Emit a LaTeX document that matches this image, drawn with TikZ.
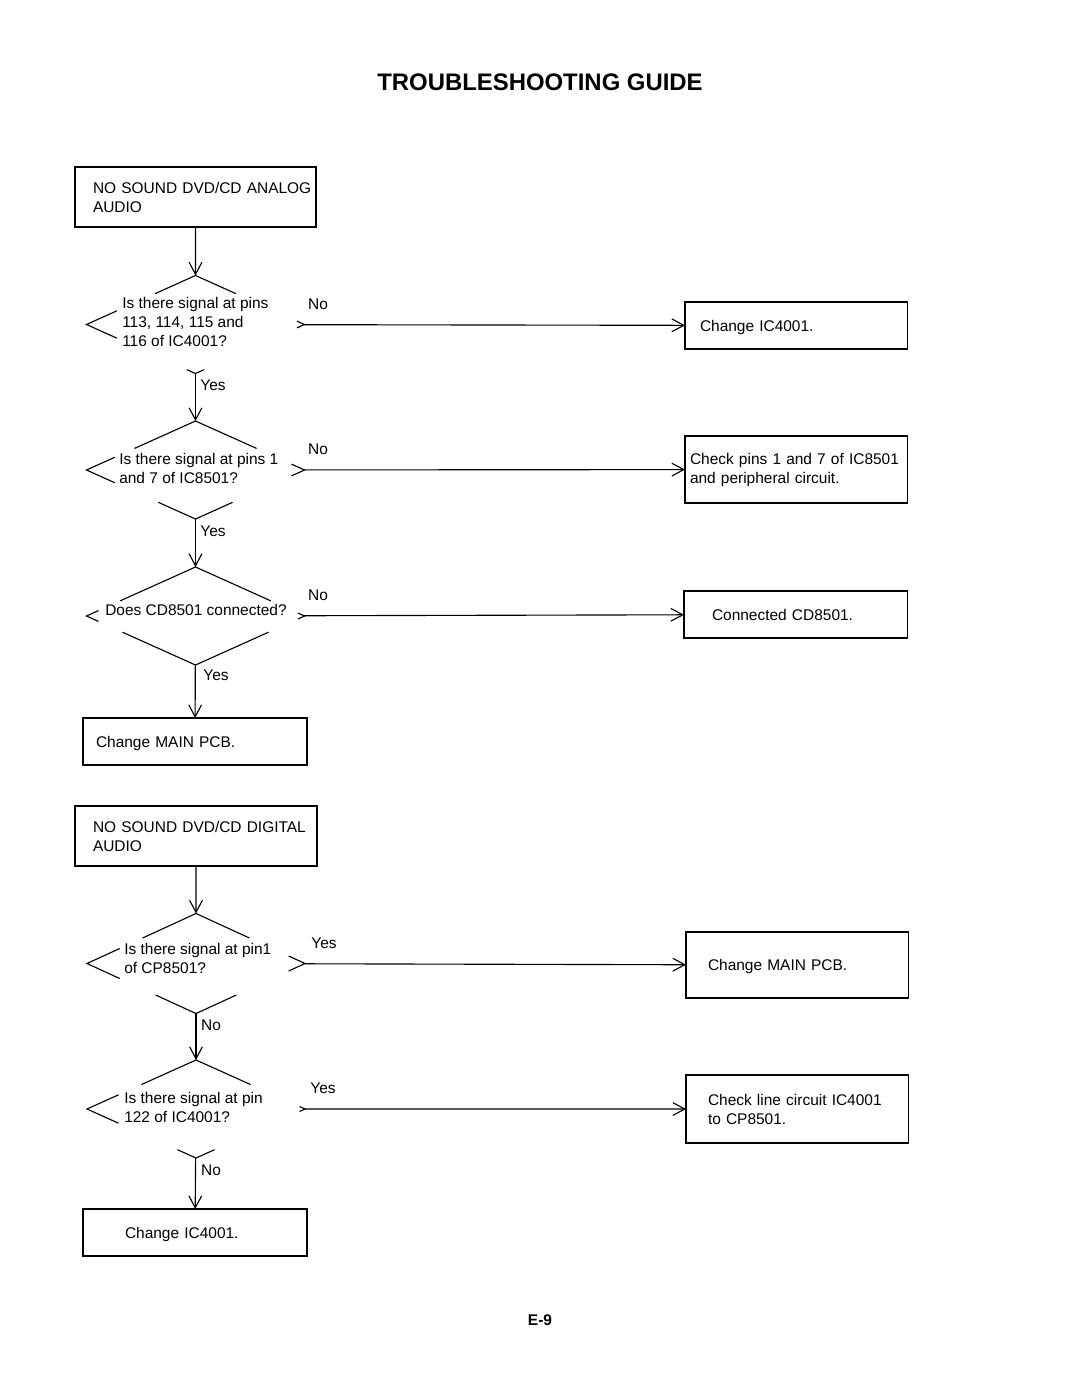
\documentclass[tikz,border=0pt]{standalone}
\usepackage{fontspec}
\setmainfont{Liberation Sans}
\usepackage{tikz}
\usetikzlibrary{arrows.meta,calc,shapes.geometric}

\begin{document}
\begin{tikzpicture}
		[x=0.025cm, y=-0.025cm,
		every node/.style={font=\fontsize{11}{13.5}\selectfont},
		action/.style={rectangle,draw,line width=0.8pt,anchor=north west,
align=left,inner ysep=0pt,outer sep=0pt},
		oneline/.style={action,text depth=0pt},
		start/.style={action,line width=2pt,minimum width=6.025cm,
minimum height=1.5cm,text width=5.125cm,inner xsep=0.45cm},
		decision/.style={diamond,inner sep=0pt,outer sep=0pt,
minimum width=5.45cm,minimum height=2.45cm},
		question/.style={align=left,inner sep=0pt,anchor=west},
		answer/.style={inner sep=0pt},
		flow/.style={line width=0.8pt,>={Straight Barb[length=3mm,width=3.2mm]}}]
		\useasboundingbox (0,0) rectangle (1080,1397);
		\node at (540,82) (title) [font=\bfseries\fontsize{17}{20}\selectfont] {TROUBLESHOOTING GUIDE};
		% analog audio
		\node at (75,167) (b1) [start] {\mbox{NO SOUND DVD/CD ANALOG}\\AUDIO};
		\node at (195.5,324.5) (d1) [decision] {}
			edge [<-,flow] (b1);
		\node at (685,302) (a1) [oneline,minimum width=5.55cm,minimum height=1.175cm,
text width=4.8cm,inner xsep=0.375cm] {Change IC4001.}
			edge [<-,flow] (d1);
		\node at (195.5,470) (d2) [decision] {}
			edge [<-,flow] (d1);
		\node at (685,436) (a2) [action,minimum width=5.55cm,minimum height=1.675cm,
text width=5.3cm,inner xsep=0.125cm] {\mbox{Check pins 1 and 7 of IC8501}\\and peripheral circuit.}
			edge [<-,flow] (d2);
		\node at (195.5,616) (d3) [decision] {}
			edge [<-,flow] (d2);
		\node at (684,591) (a3) [oneline,minimum width=5.575cm,minimum height=1.175cm,
text width=4.175cm,inner xsep=0.7cm] {Connected CD8501.}
			edge [<-,flow] (d3);
		\node at (83,718) (a4) [oneline,minimum width=5.6cm,minimum height=1.175cm,
text width=4.95cm,inner xsep=0.325cm] {Change MAIN PCB.}
			edge [<-,flow] (d3);
		% digital audio
		\node at (75,806) (b2) [start,minimum width=6.05cm,text width=5.15cm] {\mbox{NO SOUND DVD/CD DIGITAL}\\AUDIO};
		\node at (196,963.5) (d4) [decision,minimum height=2.5cm] {}
			edge [<-,flow] (b2);
		\node at (686,932) (a5) [oneline,minimum width=5.55cm,minimum height=1.65cm,
text width=4.45cm,inner xsep=0.55cm] {Change MAIN PCB.}
			edge [<-,flow] (d4);
		\node at (196,1109) (d5) [decision] {}
			edge [<-,flow] (d4);
		\node at (686,1075) (a6) [action,minimum width=5.55cm,minimum height=1.7cm,
text width=4.45cm,inner xsep=0.55cm] {\mbox{Check line circuit IC4001}\\to CP8501.}
			edge [<-,flow] (d5);
		\node at (83,1209) (a7) [oneline,minimum width=5.6cm,minimum height=1.175cm,
text width=3.5cm,inner xsep=1.05cm] {Change IC4001.}
			edge [<-,flow] (d5);
		% broken diamond outlines
		\foreach \d/\t/\l/\r/\b in {d1/0.37/0.28/0.07/0.08, d2/0.56/0.26/0.12/0.34,
d3/0.69/0.11/0.06/0.67, d4/0.49/0.3/0.15/0.37, d5/0.5/0.29/0.05/0.17}
		{
			\draw [line width=0.8pt] ($(\d.north)!\t!(\d.west)$) -- (\d.north) -- ($(\d.north)!\t!(\d.east)$);
			\draw [line width=0.8pt] ($(\d.west)!\l!(\d.north)$) -- (\d.west) -- ($(\d.west)!\l!(\d.south)$);
			\draw [line width=0.8pt] ($(\d.east)!\r!(\d.north)$) -- (\d.east) -- ($(\d.east)!\r!(\d.south)$);
			\draw [line width=0.8pt] ($(\d.south)!\b!(\d.west)$) -- (\d.south) -- ($(\d.south)!\b!(\d.east)$);
		}
		\node at (122,322) (q1) [question] {Is there signal at pins\\113, 114, 115 and\\116 of IC4001?};
		\node at (119,468) (q2) [question] {Is there signal at pins 1\\and 7 of IC8501?};
		\node at (196,610) (q3) [question,anchor=center] {Does CD8501 connected?};
		\node at (124,958.5) (q4) [question] {Is there signal at pin1\\of CP8501?};
		\node at (124,1107.5) (q5) [question] {Is there signal at pin\\122 of IC4001?};
		\node at (318,304) (no1) [answer] {No};
		\node at (213,385) (yes1) [answer] {Yes};
		\node at (318,449) (no2) [answer] {No};
		\node at (213,531) (yes2) [answer] {Yes};
		\node at (318,595) (no3) [answer] {No};
		\node at (216,675) (yes3) [answer] {Yes};
		\node at (324,943) (yes4) [answer] {Yes};
		\node at (211,1025) (no4) [answer] {No};
		\node at (323,1088) (yes5) [answer] {Yes};
		\node at (211,1170) (no5) [answer] {No};
		\node at (540,1320) (page) [font=\bfseries\fontsize{11}{13}\selectfont] {E-9};
	\end{tikzpicture}
\end{document}
